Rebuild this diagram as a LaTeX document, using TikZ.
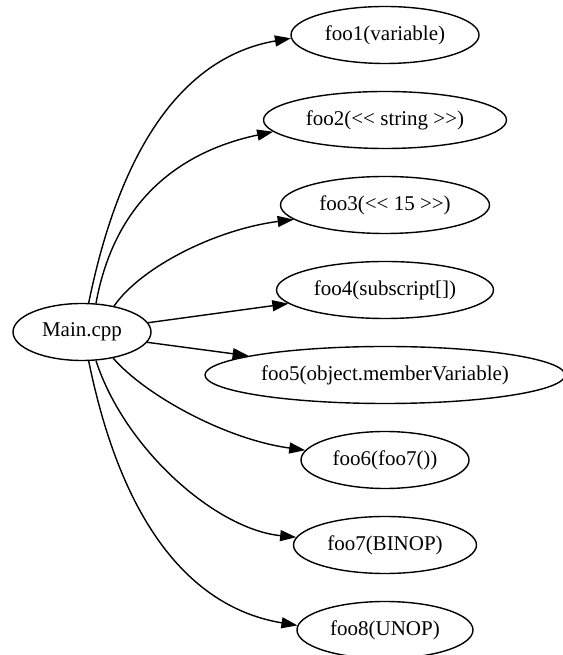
\documentclass[tikz,border=0pt]{standalone}
\usepackage{fontspec}
\setmainfont{Liberation Serif}
\usetikzlibrary{positioning,shapes.geometric,arrows.meta}

\begin{document}
\begin{tikzpicture}[
            x=1pt, y=1pt,
            node distance=26.6pt,
            func/.style={ellipse, draw, line width=1.4pt, inner sep=2pt, minimum height=57pt, font=\fontsize{21}{25}\selectfont},
            arrow/.style={-{Triangle[length=16pt, width=11pt]}, line width=1.4pt}
            ]
            \useasboundingbox (0,0) rectangle (562,655);
            
            % Source file
            \node[func, minimum width=138pt] (main) at (82,323) {Main.cpp};
            
            % Called functions
            \node[func, minimum width=188pt] (foo1) at (385,620) {foo1(variable)};
            \node[func, minimum width=243pt, below=of foo1] (foo2) {foo2(<\kern0pt< string >\kern0pt>)};
            \node[func, minimum width=209pt, below=of foo2] (foo3) {foo3(<\kern0pt< 15 >\kern0pt>)};
            \node[func, minimum width=217pt, below=of foo3] (foo4) {foo4(subscript[])};
            \node[func, minimum width=360pt, below=of foo4] (foo5) {foo5(object.memberVariable)};
            \node[func, minimum width=168pt, below=of foo5] (foo6) {foo6(foo7())};
            \node[func, minimum width=183pt, below=of foo6] (foo7) {foo7(BINOP)};
            \node[func, minimum width=176pt, below=of foo7] (foo8) {foo8(UNOP)};
            
            % Calls
            \draw[arrow] (main.77) .. controls +(36.5,179) and +(-93,-16) .. (foo1.182);
            \draw[arrow] (main.64) .. controls +(20,110) and +(-85,-18) .. (foo2.186);
            \draw[arrow] (main.39) .. controls +(27,39) and +(-78,-10) .. (foo3.189);
            \draw[arrow] (main.8) -- (foo4.188);
            \draw[arrow] (main.-9) -- (foo5.172);
            \draw[arrow] (main.-40) .. controls +(32,-37) and +(-80,11) .. (foo6.173);
            \draw[arrow] (main.-64) .. controls +(29,-89) and +(-80,8) .. (foo7.175);
            \draw[arrow] (main.-77) .. controls +(36,-177) and +(-97,16) .. (foo8.177);
            
\end{tikzpicture}
\end{document}
